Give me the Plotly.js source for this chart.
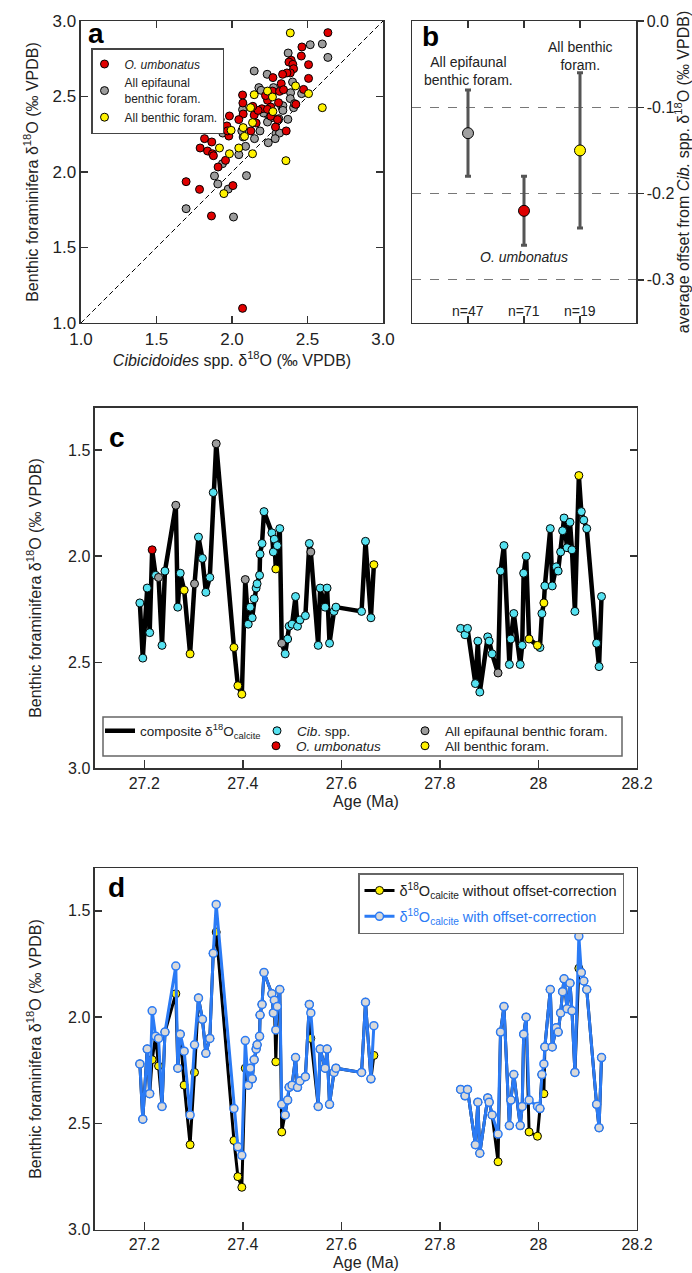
<!DOCTYPE html>
<html><head><meta charset="utf-8">
<script src="https://cdn.plot.ly/plotly-3.0.1.min.js"></script>
<style>html,body{margin:0;padding:0;background:#fff}#chart{width:692px;height:1273px}</style>
</head><body><div id="chart"></div>
<script>
// ---------- Panel a: benthic vs Cibicidoides d18O ----------
const aOumbX = [2.635,2.463,2.392,2.377,2.403,2.408,2.459,2.507,2.386,2.364,2.335,2.271,2.326,2.507,2.474,2.423,2.268,2.070,2.072,2.074,2.045,2.235,2.198,2.147,2.173,2.138,2.308,2.315,2.257,2.257,2.288,2.302,2.359,2.125,1.822,1.818,1.789,1.866,1.838,1.871,1.877,1.922,1.983,1.966,1.979,1.957,1.908,1.696,1.785,2.006,1.864,2.070,1.970,2.222,2.341,2.235,2.160];
const aOumbY = [2.923,2.828,2.740,2.728,2.713,2.684,2.768,2.711,2.656,2.656,2.647,2.625,2.585,2.620,2.547,2.448,2.536,2.510,2.457,2.384,2.347,2.475,2.419,2.377,2.408,2.435,2.459,2.534,2.430,2.369,2.298,2.347,2.272,2.272,2.287,2.221,2.159,2.199,2.139,2.121,2.108,2.347,2.371,2.305,2.238,2.077,2.033,1.936,1.885,1.910,1.709,1.097,2.272,2.506,2.545,2.415,2.324];
const aEpiX = [2.518,2.598,2.635,2.372,2.147,2.233,2.178,2.193,2.275,2.249,2.401,2.388,2.386,2.461,2.408,2.414,2.330,2.337,2.337,2.370,2.310,2.264,2.231,2.235,2.291,2.315,2.286,2.185,2.240,2.149,2.090,2.074,2.070,2.065,1.939,1.937,1.884,1.906,1.975,2.096,2.010,1.696,2.045,2.209];
const aEpiY = [2.843,2.848,2.759,2.788,2.669,2.647,2.559,2.541,2.559,2.512,2.596,2.525,2.486,2.519,2.426,2.453,2.430,2.439,2.408,2.349,2.353,2.360,2.386,2.331,2.254,2.258,2.221,2.272,2.194,2.221,2.170,2.232,2.413,2.272,2.258,2.055,1.974,1.921,1.887,1.976,1.702,1.757,2.115,2.391];
const aBenX = [2.386,2.147,2.235,2.268,2.421,2.507,2.598,2.271,2.123,2.083,2.074,2.136,1.994,1.917,1.983,2.045,2.136,2.357,1.946];
const aBenY = [2.921,2.512,2.536,2.497,2.570,2.519,2.426,2.400,2.426,2.236,2.294,2.327,2.276,2.159,2.121,2.159,2.121,2.075,1.857];
const oneToOne = [1, 3];

// ---------- Panel b: average offsets ----------
const bCats = [1, 2, 3];
const bLabels = ['All epifaunal<br>benthic foram.', '<i>O. umbonatus</i>', 'All benthic<br>foram.'];
const bMean = [-0.13, -0.22, -0.15];
const bErr = [0.05, 0.04, 0.09];
const bN = ['n=47', 'n=71', 'n=19'];
const bColors = ['#A0A0A0', '#DD0000', '#FFF200'];

// ---------- Panels c and d: time series ----------
const ages = [27.191,27.197,27.206,27.211,27.216,27.223,27.229,27.236,27.242,27.264,27.268,27.273,27.281,27.293,27.302,27.310,27.318,27.325,27.333,27.340,27.346,27.382,27.390,27.398,27.405,27.411,27.415,27.419,27.423,27.427,27.429,27.434,27.435,27.439,27.443,27.459,27.462,27.464,27.467,27.470,27.475,27.479,27.486,27.491,27.494,27.500,27.507,27.511,27.516,27.527,27.535,27.538,27.553,27.557,27.567,27.571,27.576,27.585,27.589,27.641,27.649,27.660,27.666,
27.842,27.851,27.856,27.872,27.877,27.881,27.897,27.900,27.906,27.918,27.923,27.930,27.941,27.944,27.950,27.963,27.967,27.970,27.975,27.981,27.998,28.003,28.007,28.011,28.013,28.024,28.028,28.036,28.040,28.045,28.049,28.052,28.058,28.064,28.068,28.074,28.082,28.087,28.092,28.098,28.118,28.123,28.128];
// composite (offset-corrected) d18O
const d18O = [2.22,2.48,2.15,2.36,1.97,2.09,2.10,2.42,2.07,1.76,2.24,2.08,2.16,2.46,2.13,1.91,2.01,2.17,2.10,1.70,1.47,2.43,2.61,2.65,2.11,2.32,2.24,2.29,2.20,2.15,2.13,2.09,1.99,1.94,1.79,1.89,1.98,1.92,2.06,1.95,1.87,2.41,2.46,2.39,2.33,2.32,2.19,2.33,2.30,2.28,1.94,1.98,2.42,2.15,2.24,2.15,2.41,2.26,2.24,2.26,1.93,2.29,2.04,
2.34,2.37,2.34,2.60,2.40,2.64,2.38,2.40,2.46,2.55,2.07,1.95,2.51,2.39,2.27,2.51,2.42,2.08,2.00,2.39,2.42,2.43,2.27,2.22,2.14,1.87,2.14,2.05,2.07,1.98,1.88,1.82,1.96,1.84,1.97,2.26,1.62,1.79,1.83,1.87,2.41,2.52,2.19];
// d18O without offset correction
const d18Oraw = [2.22,2.48,2.15,2.36,2.20,2.09,2.23,2.42,2.07,1.89,2.24,2.08,2.32,2.60,2.26,1.91,2.01,2.17,2.10,1.70,1.60,2.58,2.75,2.80,2.24,2.32,2.24,2.29,2.20,2.15,2.13,2.09,1.99,1.94,1.79,1.89,1.98,1.92,2.21,1.95,1.87,2.54,2.46,2.39,2.33,2.32,2.19,2.33,2.30,2.28,1.94,2.10,2.42,2.15,2.24,2.15,2.41,2.26,2.24,2.26,1.93,2.29,2.18,
2.34,2.37,2.34,2.60,2.40,2.64,2.38,2.40,2.46,2.68,2.07,1.95,2.51,2.39,2.27,2.51,2.42,2.08,2.00,2.54,2.56,2.43,2.27,2.36,2.14,1.87,2.14,2.05,2.07,1.98,1.88,1.82,1.96,1.84,1.97,2.26,1.77,1.79,1.83,1.87,2.41,2.52,2.19];
// measured taxon: C = Cib. spp., O = O. umbonatus, E = all epifaunal, B = all benthic
const source = ['C','C','C','C','O','C','E','C','C','E','C','C','B','B','E','C','C','C','C','C','E','B','B','B','E','C','C','C','C','C','C','C','C','C','C','C','C','C','B','C','C','E','C','C','C','C','C','C','C','C','C','E','C','C','C','C','C','C','C','C','C','C','B',
'C','C','C','C','C','C','C','C','C','E','C','C','C','C','C','C','C','C','C','B','B','C','C','B','C','C','C','C','C','C','C','C','C','C','C','C','B','C','C','C','C','C','C'];
const ageTicks = [27.2, 27.4, 27.6, 27.8, 28, 28.2];
const ageTickText = ['27.2', '27.4', '27.6', '27.8', '28', '28.2'];

// ---------- helpers ----------
const FONT = 'Liberation Sans, Arial, Helvetica, sans-serif';
const AX = '#333';
function withGap(x, y) {
  const gx = [], gy = [];
  for (let i = 0; i < x.length; i++) {
    if (i > 0 && x[i] - x[i - 1] > 0.1) { gx.push(null); gy.push(null); }
    gx.push(x[i]); gy.push(y[i]);
  }
  return [gx, gy];
}
function pick(code, arr) { return arr.filter((v, i) => source[i] === code); }
const mk = (c, s) => ({ color: c, size: s, line: { color: '#000', width: 1 } });

const CYAN = '#55E1F0', RED = '#E00000', GREY = '#9C9C9C', YEL = '#FFF200', BLUE = '#2B7BF5';
const D18 = 'δ<sup>18</sup>O';
const YTITLE = 'Benthic foraminifera ' + D18 + ' (‰ VPDB)';

const traces = [];
// Panel a
traces.push({ x: oneToOne, y: oneToOne, xaxis: 'x', yaxis: 'y', mode: 'lines', line: { color: '#000', width: 1, dash: '5px,3px' }, showlegend: false, hoverinfo: 'skip' });
traces.push({ x: aEpiX, y: aEpiY, xaxis: 'x', yaxis: 'y', mode: 'markers', marker: mk(GREY, 8), name: 'All epifaunal<br>benthic foram.', legend: 'legend', legendrank: 2, legendgroup: 'a2' });
traces.push({ x: aOumbX, y: aOumbY, xaxis: 'x', yaxis: 'y', mode: 'markers', marker: mk(RED, 8), name: '<i>O. umbonatus</i>', legend: 'legend', legendrank: 1, legendgroup: 'a1' });
traces.push({ x: aBenX, y: aBenY, xaxis: 'x', yaxis: 'y', mode: 'markers', marker: mk(YEL, 8), name: 'All benthic foram.', legend: 'legend', legendrank: 3, legendgroup: 'a3' });
// Panel b
traces.push({ x: bCats, y: bMean, xaxis: 'x2', yaxis: 'y2', mode: 'markers', showlegend: false,
  error_y: { type: 'data', array: bErr, color: '#555', thickness: 3, width: 3 },
  marker: { color: bColors, size: 11, line: { color: '#000', width: 1 } } });
// Panel c
const [cx, cy] = withGap(ages, d18O);
traces.push({ x: cx, y: cy, xaxis: 'x3', yaxis: 'y3', mode: 'lines', connectgaps: false, line: { color: '#000', width: 4.5 }, name: 'composite ' + D18 + '<sub>calcite</sub>', legend: 'legend2' });
traces.push({ x: pick('C', ages), y: pick('C', d18O), xaxis: 'x3', yaxis: 'y3', mode: 'markers', marker: mk(CYAN, 8), name: '<i>Cib</i>. spp.', legend: 'legend2' });
traces.push({ x: pick('E', ages), y: pick('E', d18O), xaxis: 'x3', yaxis: 'y3', mode: 'markers', marker: mk(GREY, 8), name: 'All epifaunal benthic foram.', legend: 'legend5' });
traces.push({ x: pick('O', ages), y: pick('O', d18O), xaxis: 'x3', yaxis: 'y3', mode: 'markers', marker: mk(RED, 8), name: '<i>O. umbonatus</i>', legend: 'legend3' });
traces.push({ x: pick('B', ages), y: pick('B', d18O), xaxis: 'x3', yaxis: 'y3', mode: 'markers', marker: mk(YEL, 8), name: 'All benthic foram.', legend: 'legend6' });
// Panel d
const [rx, ry] = withGap(ages, d18Oraw);
traces.push({ x: rx, y: ry, xaxis: 'x4', yaxis: 'y4', mode: 'lines+markers', connectgaps: false, line: { color: '#000', width: 3 }, marker: mk(YEL, 8), name: D18 + '<sub>calcite</sub> without offset-correction', legend: 'legend4', legendgroup: 'd1' });
traces.push({ x: cx, y: cy, xaxis: 'x4', yaxis: 'y4', mode: 'lines+markers', connectgaps: false, line: { color: BLUE, width: 3 }, marker: { color: '#D9D9D9', size: 8, line: { color: BLUE, width: 1.5 } }, name: '<span style="color:' + BLUE + '">' + D18 + '<sub>calcite</sub> with offset-correction</span>', legend: 'legend4', legendgroup: 'd2' });

const baseAxis = {
  showline: true, linecolor: AX, linewidth: 1.5, ticks: 'inside', ticklen: 7, tickwidth: 1.5, tickcolor: AX,
  showgrid: false, zeroline: false, automargin: false, tickfont: { size: 16, color: '#222' }
};
const ax = (o) => Object.assign({}, baseAxis, o);

const dA = [0.74627, 0.98350];
const dC = [0.39631, 0.67981];
const dD = [0.03394, 0.31791];
const xCD = [0.13728, 0.92052];

const paperX = px => px / 692, paperY = py => 1 - py / 1273;

const annotations = [
  { text: '<b>a</b>', x: paperX(86), y: paperY(34), xref: 'paper', yref: 'paper', xanchor: 'left', yanchor: 'middle', showarrow: false, font: { size: 28, color: '#000' } },
  { text: '<b>b</b>', x: paperX(420), y: paperY(36), xref: 'paper', yref: 'paper', xanchor: 'left', yanchor: 'middle', showarrow: false, font: { size: 28, color: '#000' } },
  { text: '<b>c</b>', x: paperX(107), y: paperY(437), xref: 'paper', yref: 'paper', xanchor: 'left', yanchor: 'middle', showarrow: false, font: { size: 28, color: '#000' } },
  { text: '<b>d</b>', x: paperX(106), y: paperY(887), xref: 'paper', yref: 'paper', xanchor: 'left', yanchor: 'middle', showarrow: false, font: { size: 28, color: '#000' } }
];
const bLabelY = [-0.058, -0.274, -0.041];
bCats.forEach((c, i) => {
  annotations.push({ text: bLabels[i], x: c, y: bLabelY[i], xref: 'x2', yref: 'y2', showarrow: false, font: { size: 14, color: '#222' }, align: 'center' });
  annotations.push({ text: bN[i], x: c, y: -0.336, xref: 'x2', yref: 'y2', showarrow: false, font: { size: 14, color: '#222' } });
});

const rowLegend = (px, py) => ({ orientation: 'h', x: paperX(px), y: paperY(py), xanchor: 'left', yanchor: 'middle',
  bgcolor: 'rgba(0,0,0,0)', borderwidth: 0, font: { size: 13.5, color: '#222' } });

const layout = {
  width: 692, height: 1273, margin: { l: 0, r: 0, t: 0, b: 0 },
  paper_bgcolor: '#fff', plot_bgcolor: 'rgba(0,0,0,0)',
  font: { family: FONT, color: '#222' },
  xaxis: ax({ domain: [0.11705, 0.55347], anchor: 'y', range: [1, 3], tickvals: [1, 1.5, 2, 2.5, 3], ticktext: ['1.0', '1.5', '2.0', '2.5', '3.0'], mirror: 'ticks', tickfont: { size: 17 },
    title: { text: '<i>Cibicidoides</i> spp. ' + D18 + ' (‰ VPDB)', font: { size: 16 }, standoff: 2 } }),
  yaxis: ax({ domain: dA, anchor: 'x', range: [1, 3], tickvals: [1, 1.5, 2, 2.5, 3], ticktext: ['1.0', '1.5', '2.0', '2.5', '3.0'], mirror: 'ticks', tickfont: { size: 17 },
    title: { text: YTITLE, font: { size: 16 }, standoff: 10 } }),
  xaxis2: ax({ domain: [0.59538, 0.91908], anchor: 'y2', range: [0, 4], tickvals: bCats, showticklabels: false, mirror: 'ticks' }),
  yaxis2: ax({ domain: dA, anchor: 'x2', side: 'right', range: [-0.35, 0], tickvals: [0, -0.1, -0.2, -0.3], ticktext: ['0.0', '-0.1', '-0.2', '-0.3'],
    ticks: 'outside', ticklen: 6, mirror: true, showgrid: true, gridcolor: '#777', gridwidth: 1, griddash: 'dash',
    title: { text: 'average offset from <i>Cib.</i> spp. ' + D18 + ' (‰ VPDB)', font: { size: 16 }, standoff: 1 } }),
  xaxis3: ax({ domain: xCD, anchor: 'y3', range: [27.1, 28.2], tickvals: ageTicks, ticktext: ageTickText, mirror: true, ticklen: 8,
    title: { text: 'Age (Ma)', font: { size: 16 }, standoff: 4 } }),
  yaxis3: ax({ domain: dC, anchor: 'x3', range: [3.0, 1.3], tickvals: [1.5, 2, 2.5, 3], ticktext: ['1.5', '2.0', '2.5', '3.0'], mirror: 'ticks',
    title: { text: YTITLE, font: { size: 16 }, standoff: 22 } }),
  xaxis4: ax({ domain: xCD, anchor: 'y4', range: [27.1, 28.2], tickvals: ageTicks, ticktext: ageTickText, mirror: true, ticklen: 8,
    title: { text: 'Age (Ma)', font: { size: 16 }, standoff: 4 } }),
  yaxis4: ax({ domain: dD, anchor: 'x4', range: [3.0, 1.3], tickvals: [1.5, 2, 2.5, 3], ticktext: ['1.5', '2.0', '2.5', '3.0'], mirror: 'ticks',
    title: { text: YTITLE, font: { size: 16 }, standoff: 22 } }),
  showlegend: true,
  legend: { x: paperX(91), y: paperY(48), xanchor: 'left', yanchor: 'top', bgcolor: '#fff', bordercolor: '#444', borderwidth: 1.5,
    font: { size: 12, color: '#222' }, tracegroupgap: 0, traceorder: 'normal', indentation: -8 },
  legend2: Object.assign(rowLegend(100, 731), { entrywidth: 112, entrywidthmode: 'pixels' }),
  legend5: rowLegend(405, 731),
  legend3: rowLegend(256, 746),
  legend6: rowLegend(405, 746),
  legend4: { x: paperX(358), y: paperY(873), xanchor: 'left', yanchor: 'top', bgcolor: '#fff', bordercolor: '#666', borderwidth: 1.5,
    font: { size: 14.5, color: '#222' }, tracegroupgap: 4, traceorder: 'grouped' },
  shapes: [
    { type: 'rect', xref: 'paper', yref: 'paper', x0: paperX(103), x1: paperX(622), y0: paperY(756), y1: paperY(717),
      line: { color: '#666', width: 1.5 }, fillcolor: 'rgba(0,0,0,0)', layer: 'above' }
  ],
  annotations: annotations
};

Plotly.newPlot('chart', traces, layout, { displayModeBar: false, staticPlot: true });
</script>
</body></html>
